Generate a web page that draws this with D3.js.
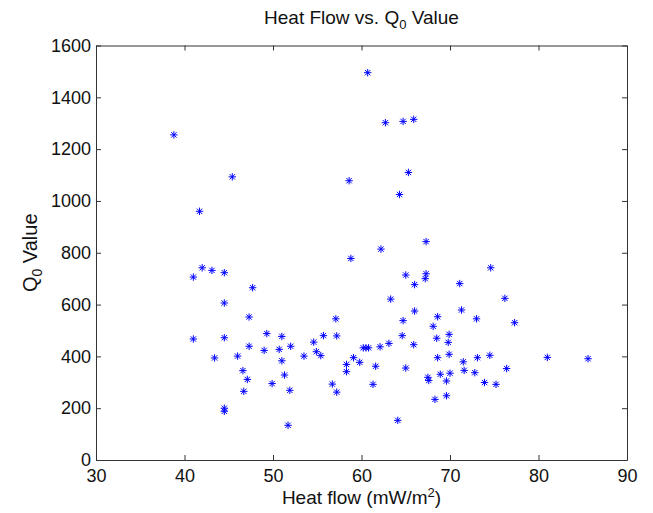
<!DOCTYPE html>
<html>
<head>
<meta charset="utf-8">
<script src="https://cdn.jsdelivr.net/npm/d3@7"></script>
<style>
  html, body { margin: 0; padding: 0; background: #fff; }
  svg { display: block; }
  text { font-family: "Liberation Sans", Arial, Helvetica, sans-serif; fill: #111; }
</style>
</head>
<body>
<svg id="chart" width="653" height="513"></svg>
<script>
// Heat flow (mW/m^2)
const heatFlow = [
  38.8, 41.7, 41.0, 42.0, 43.1, 41.0, 43.4, 45.4, 58.6, 44.5,
  47.7, 44.5, 47.3, 44.5, 49.3, 51.0, 54.6, 55.7, 57.1, 57.2,
  47.3, 49.0, 50.7, 52.0, 46.0, 51.0, 53.5, 54.9, 55.4, 46.6,
  47.1, 46.7, 51.3, 49.9, 51.9, 44.5, 44.5, 51.7, 56.7, 57.2,
  58.3, 58.3, 58.8, 60.7, 62.7, 64.7, 65.9, 65.3, 64.3, 67.3,
  62.2, 65.0, 67.3, 67.2, 66.0, 71.1, 63.3, 66.0, 71.3, 73.0,
  68.6, 64.7, 68.1, 64.6, 65.9, 68.5, 69.9, 69.8, 63.1, 62.1,
  60.2, 60.5, 60.8, 59.1, 59.8, 61.6, 68.6, 69.9, 71.5, 71.6,
  73.1, 65.0, 61.3, 67.5, 67.6, 68.9, 70.0, 69.6, 68.3, 69.6,
  64.1, 72.8, 74.6, 76.2, 77.3, 74.5, 81.0, 85.6, 76.4, 73.9,
  75.2
];
// Q0 value
const q0Value = [
  1255, 960, 706, 742, 732, 467, 394, 1093, 1078, 723,
  665, 606, 552, 472, 488, 477, 455, 480, 545, 479,
  439, 423, 427, 439, 401, 383, 401, 418, 403, 345,
  311, 265, 328, 295, 269, 200, 188, 134, 293, 262,
  369, 341, 778, 1495, 1302, 1307, 1315, 1110, 1025, 843,
  814, 714, 719, 700, 677, 681, 621, 575, 579, 545,
  553, 538, 516, 480, 445, 470, 485, 454, 450, 437,
  433, 433, 433, 395, 377, 362, 395, 408, 379, 346,
  395, 355, 292, 319, 307, 331, 335, 305, 234, 248,
  153, 337, 742, 624, 530, 404, 396, 391, 353, 299,
  292
];
const xTicks = [30, 40, 50, 60, 70, 80, 90];
const yTicks = [0, 200, 400, 600, 800, 1000, 1200, 1400, 1600];

const svg = d3.select("#chart");
const mLeft = 96, mRight = 627, mTop = 45.5, mBottom = 460;

const x = d3.scaleLinear().domain([30, 90]).range([mLeft, mRight]);
const y = d3.scaleLinear().domain([0, 1600]).range([mBottom, mTop]);

const axisColor = "#333";
const tickLen = 5;

const gx = svg.append("g").attr("transform", `translate(0,${mBottom})`)
  .call(d3.axisBottom(x).tickValues(xTicks).tickSizeInner(-tickLen).tickSizeOuter(0).tickPadding(9).tickFormat(d3.format("d")));
const gxt = svg.append("g").attr("transform", `translate(0,${mTop})`)
  .call(d3.axisTop(x).tickValues(xTicks).tickSizeInner(-tickLen).tickSizeOuter(0).tickFormat(""));
const gy = svg.append("g").attr("transform", `translate(${mLeft},0)`)
  .call(d3.axisLeft(y).tickValues(yTicks).tickSizeInner(-tickLen).tickSizeOuter(0).tickPadding(5).tickFormat(d3.format("d")));
const gyr = svg.append("g").attr("transform", `translate(${mRight},0)`)
  .call(d3.axisRight(y).tickValues(yTicks).tickSizeInner(-tickLen).tickSizeOuter(0).tickFormat(""));

[gx, gxt, gy, gyr].forEach(g => {
  g.selectAll("path.domain").attr("stroke", axisColor).attr("stroke-width", 1);
  g.selectAll(".tick line").attr("stroke", axisColor);
  g.selectAll(".tick text").attr("font-size", 18).attr("fill", "#111")
    .attr("font-family", "'Liberation Sans', Arial, sans-serif");
});

const r = 3.7, rd = r * 0.72;
const starPath = `M${-r},0L${r},0M0,${-r}L0,${r}M${-rd},${-rd}L${rd},${rd}M${-rd},${rd}L${rd},${-rd}`;
const pts = heatFlow.map((h, i) => ({ h, q: q0Value[i] }));
svg.append("g").selectAll("path.pt").data(pts).enter().append("path")
  .attr("class", "pt")
  .attr("transform", d => `translate(${x(d.h)},${y(d.q)})`)
  .attr("d", starPath)
  .attr("stroke", "#0000ff")
  .attr("stroke-width", 1)
  .attr("fill", "none");

const title = svg.append("text")
  .attr("x", (mLeft + mRight) / 2).attr("y", 24)
  .attr("text-anchor", "middle").attr("font-size", 19);
title.append("tspan").text("Heat Flow vs. Q");
title.append("tspan").attr("font-size", 13).attr("dy", 5).text("0");
title.append("tspan").attr("dy", -5).text(" Value");

const xl = svg.append("text")
  .attr("x", (mLeft + mRight) / 2).attr("y", 504)
  .attr("text-anchor", "middle").attr("font-size", 19);
xl.append("tspan").text("Heat flow (mW/m");
xl.append("tspan").attr("font-size", 13).attr("dy", -7).text("2");
xl.append("tspan").attr("dy", 7).text(")");

const yl = svg.append("text")
  .attr("transform", `translate(37,${(mTop + mBottom) / 2}) rotate(-90)`)
  .attr("text-anchor", "middle").attr("font-size", 20);
yl.append("tspan").text("Q");
yl.append("tspan").attr("font-size", 14).attr("dy", 5).text("0");
yl.append("tspan").attr("dy", -5).text(" Value");
</script>
</body>
</html>
